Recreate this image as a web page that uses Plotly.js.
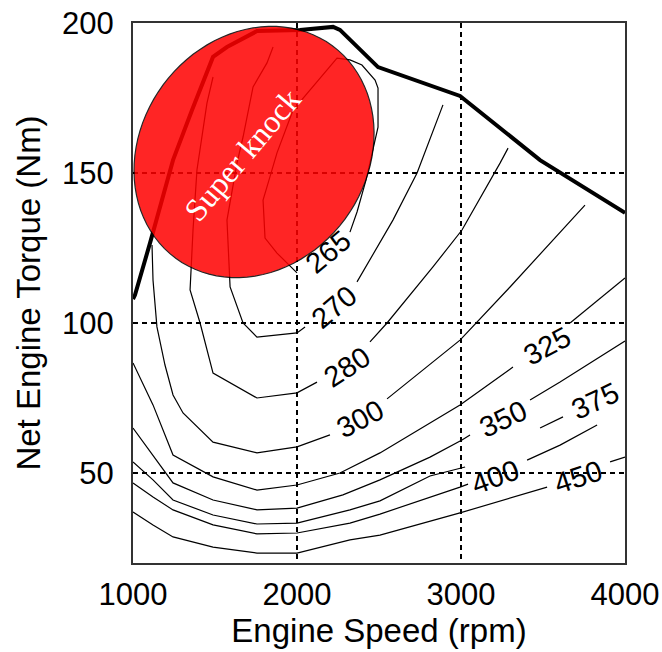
<!DOCTYPE html>
<html><head><meta charset="utf-8">
<script src="https://cdn.plot.ly/plotly-3.0.1.min.js"></script>
<style>html,body{margin:0;padding:0;background:#fff}</style>
</head><body><div id="chart" style="width:662px;height:652px"></div>
<script>
// ---- data ----
var maxTorqueSpeed = [1000, 1012, 1104, 1244, 1360, 1488, 1573, 1756, 2018, 2220, 2262, 2494, 2994, 3238, 3482, 4000];
var maxTorqueNm    = [108, 109.3, 126.7, 154.3, 171, 188.7, 192, 197.3, 197.7, 198.7, 197.7, 185.3, 175.7, 165, 154.3, 136.7];

var bsfc265Speed  = [2000, 1878, 1805, 1793, 1835, 1878, 1976, 2244, 2323, 2396, 2476, 2494, 2494, 2470, 2421, 2366, 2323];
var bsfc265Torque = [116.7, 123.3, 128.3, 141, 148.7, 156.7, 171, 188.3, 187.7, 186, 181, 178.3, 165.3, 159.3, 147.7, 137, 130.3];

var bsfc270Speed  = [1854, 1817, 1732, 1671, 1634, 1573, 1592, 1671, 1756, 2000, 2049, null, 2366, 2585, 2732, 2890];
var bsfc270Torque = [192, 186.7, 178.7, 162, 153.3, 134.3, 112, 100, 95.3, 96.7, 98.7, null, 113.7, 134.3, 150, 172.7];

var bsfc280Speed  = [1488, 1451, 1390, 1366, 1348, 1409, 1488, 1756, 2000, 2122, null, 2445, 2549, 2829, 3006, 3238, 3287];
var bsfc280Torque = [182, 173.3, 151, 131, 111, 100, 83.3, 75, 76.7, 80.3, null, 93.7, 100, 118.7, 131, 153.3, 158.3];

var bsfc300Speed  = [1116, 1122, 1146, 1195, 1244, 1305, 1488, 1756, 2000, 2201, null, 2549, 2994, 3299, 3756];
var bsfc300Torque = [126, 114.3, 98.7, 86, 76, 70, 60.3, 56.7, 58.7, 62.7, null, 74.7, 94.3, 112, 139.3];

var bsfc325Speed  = [1000, 1122, 1244, 1488, 1756, 2000, 2262, 2506, 2994, 3317, null, 3665, 4000];
var bsfc325Torque = [86.7, 72.7, 56, 48.7, 44.3, 46, 50, 56.7, 72.7, 85.3, null, 100, 115];

var bsfc350Speed  = [1000, 1122, 1244, 1488, 1756, 2000, 2280, 2506, 2811, 3006, 3055, null, 3421, 3604, 4000];
var bsfc350Torque = [65, 56, 46.7, 41, 37.7, 38.3, 42.7, 47.7, 55.3, 61, 62.7, null, 74.3, 80.3, 94];

var bsfc375Speed  = [1000, 1122, 1244, 1488, 1756, 2000, 2323, 2506, 2811, 3025, null, 3482, 3622];
var bsfc375Torque = [53.7, 47.7, 41, 36, 33, 33.3, 37.7, 40.7, 49, 52, null, 65, 68.7];

var bsfc400Speed  = [1000, 1122, 1244, 1488, 1756, 2000, 2323, 2506, 2994, 3043, null, 3403, 3604, 3830];
var bsfc400Torque = [46.7, 42, 37.7, 32.7, 29.7, 30, 33.3, 36.3, 45.3, 46.3, null, 54.3, 59.3, 66];

var bsfc450Speed  = [1000, 1122, 1244, 1488, 1756, 2000, 2323, 2506, 2994, 3525, null, 3909, 4000];
var bsfc450Torque = [37, 32.7, 28.7, 25.3, 23.3, 23.3, 27.7, 29.3, 36.7, 45.3, null, 53.7, 55.3];

var labelText   = ['265', '270', '280', '300', '325', '350', '375', '400', '450'];
var labelSpeed  = [2189, 2226, 2305, 2384, 3525, 3256, 3817, 3208, 3714];
var labelTorque = [123.7, 105.3, 85.3, 68, 92.3, 68, 74, 48.7, 48.7];
var labelAngle  = [-40, -40, -33, -28, -28, -25, -25, -20, -18];

var xTicks = [1000, 2000, 3000, 4000];
var yTicks = [50, 100, 150, 200];

var knockZoneSpeed = 1738, knockZoneTorque = 157;
var knockTextSpeed = 1665, knockTextTorque = 156;

// ---- build figure ----
var W = 662, H = 652, M = {l: 133, r: 37, t: 23, b: 89};
var xRange = [1000, 4000], yRange = [20, 200];
var pw = W - M.l - M.r, ph = H - M.t - M.b;
var rpmPerPx = (xRange[1] - xRange[0]) / pw, nmPerPx = (yRange[1] - yRange[0]) / ph;

var contours = [
  [bsfc265Speed, bsfc265Torque], [bsfc270Speed, bsfc270Torque], [bsfc280Speed, bsfc280Torque],
  [bsfc300Speed, bsfc300Torque], [bsfc325Speed, bsfc325Torque], [bsfc350Speed, bsfc350Torque],
  [bsfc375Speed, bsfc375Torque], [bsfc400Speed, bsfc400Torque], [bsfc450Speed, bsfc450Torque]
];
var traces = contours.map(function (c) {
  return {x: c[0], y: c[1], type: 'scatter', mode: 'lines', connectgaps: false,
    line: {color: '#000', width: 1.2}, hoverinfo: 'skip', showlegend: false};
});
traces.push({x: maxTorqueSpeed, y: maxTorqueNm, type: 'scatter', mode: 'lines',
  line: {color: '#000', width: 4}, hoverinfo: 'skip', showlegend: false});

// tilted ellipse (pixel geometry converted to data units)
var a = 132, b = 113, th = 53.6 * Math.PI / 180, path = '';
for (var i = 0; i <= 96; i++) {
  var t = 2 * Math.PI * i / 96;
  var dxp = a * Math.cos(th) * Math.cos(t) - b * Math.sin(th) * Math.sin(t);
  var dyp = a * Math.sin(th) * Math.cos(t) + b * Math.cos(th) * Math.sin(t);
  var xx = knockZoneSpeed + dxp * rpmPerPx, yy = knockZoneTorque + dyp * nmPerPx;
  path += (i === 0 ? 'M ' : ' L ') + xx.toFixed(2) + ',' + yy.toFixed(3);
}
path += ' Z';

var annotations = labelText.map(function (t, i) {
  return {x: labelSpeed[i], y: labelTorque[i], text: t, showarrow: false, textangle: labelAngle[i],
    font: {family: 'Liberation Sans, Arial, sans-serif', size: 29, color: '#000'}};
});
annotations.push({x: knockTextSpeed, y: knockTextTorque, text: 'Super knock', showarrow: false,
  textangle: -50, font: {family: 'Liberation Serif, Times New Roman, serif', size: 32, color: '#fff'}});

var axisCommon = {
  showgrid: true, gridcolor: '#000', gridwidth: 1.2, griddash: '5px,4px',
  showline: true, mirror: true, linecolor: '#333', linewidth: 2,
  zeroline: false, ticks: '', fixedrange: true,
  tickfont: {family: 'Liberation Sans, Arial, sans-serif', size: 31, color: '#000'}
};
var layout = {
  width: W, height: H, margin: M, paper_bgcolor: '#fff', plot_bgcolor: '#fff',
  xaxis: Object.assign({}, axisCommon, {range: xRange, tickvals: xTicks, ticklabelstandoff: 3,
    title: {text: 'Engine Speed (rpm)', standoff: 8, font: {family: 'Liberation Sans, Arial, sans-serif', size: 33, color: '#000'}}}),
  yaxis: Object.assign({}, axisCommon, {range: yRange, tickvals: yTicks, ticklabelstandoff: 11,
    title: {text: 'Net Engine Torque (Nm)', standoff: 12, font: {family: 'Liberation Sans, Arial, sans-serif', size: 33, color: '#000'}}}),
  shapes: [{type: 'path', path: path, xref: 'x', yref: 'y', layer: 'above',
    fillcolor: 'rgb(255,0,0)', opacity: 0.85, line: {color: '#000', width: 1.2}}],
  annotations: annotations,
  showlegend: false
};
Plotly.newPlot('chart', traces, layout, {staticPlot: true, displayModeBar: false});
</script></body></html>
